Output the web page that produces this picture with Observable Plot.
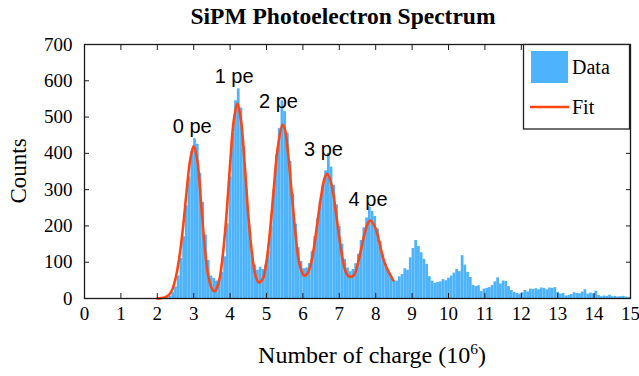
<!DOCTYPE html>
<html><head><meta charset="utf-8">
<script src="https://cdn.jsdelivr.net/npm/d3@7"></script>
<script src="https://cdn.jsdelivr.net/npm/@observablehq/plot@0.6"></script>
<style>body{margin:0;background:#fff} svg{display:block}</style>
</head><body><div id="chart"></div>
<script>
// ---- data ----
const titleText = "SiPM Photoelectron Spectrum";
const xLabelText = "Number of charge (10";
const xLabelSup = "6";
const yLabelText = "Counts";
const legendItems = ["Data", "Fit"];

const binStart = 2.25;
const binWidth = 0.075;
const counts = [
  2, 6, 16, 32, 62, 110, 170, 255, 335, 405,
  440, 425, 345, 265, 175, 105, 62, 55, 48, 52,
  72, 115, 205, 335, 455, 545, 578, 525, 420, 300,
  200, 130, 92, 78, 86, 80, 92, 130, 200, 300,
  395, 468, 545, 515, 455, 378, 288, 205, 140, 102,
  82, 84, 96, 130, 170, 220, 268, 312, 352, 400,
  362, 312, 258, 198, 150, 108, 84, 74, 80, 96,
  122, 160, 195, 222, 252, 240, 226, 192, 158, 122,
  95, 74, 58, 50, 48, 60, 66, 82, 78, 112,
  138, 160, 143, 126, 108, 94, 60, 48, 42, 44,
  46, 52, 49, 56, 62, 70, 80, 74, 118, 92,
  72, 58, 36, 33, 35, 19, 26, 28, 30, 36,
  46, 57, 40, 48, 47, 33, 22, 17, 14, 12,
  16, 22, 18, 26, 25, 27, 24, 29, 28, 24,
  29, 28, 30, 17, 12, 14, 7, 8, 11, 16,
  14, 13, 18, 24, 12, 15, 13, 20, 8, 5,
  7, 6, 9, 5, 6, 4, 5, 6, 4, 3
];

const fitX = [2.0, 2.1, 2.2, 2.3, 2.4, 2.5, 2.6, 2.7, 2.8, 2.9, 3.0, 3.1, 3.2, 3.3, 3.4, 3.5, 3.55, 3.6, 3.7, 3.8,
  3.9, 4.0, 4.1, 4.2, 4.3, 4.4, 4.5, 4.6, 4.7, 4.79, 4.9, 5.0, 5.1, 5.2, 5.3, 5.44, 5.5, 5.6, 5.7, 5.8,
  5.9, 6.03, 6.1, 6.2, 6.3, 6.4, 6.5, 6.6, 6.67, 6.8, 6.9, 7.0, 7.1, 7.2, 7.28, 7.4, 7.5, 7.6, 7.7, 7.8,
  7.86, 8.0, 8.1, 8.2, 8.3, 8.4, 8.48];
const fitY = [0, 1, 3, 8, 22, 55, 110, 190, 290, 380, 420, 380, 265, 145, 62, 27, 20, 22, 50, 120,
  230, 370, 490, 537, 490, 370, 230, 125, 62, 44, 55, 102, 190, 302, 409, 479, 468, 392, 282, 175,
  98, 63, 66, 88, 138, 210, 282, 333, 344, 308, 242, 168, 104, 68, 60, 64, 92, 136, 180, 210,
  215, 192, 155, 112, 85, 65, 50];

const peakLabels = ["0 pe", "1 pe", "2 pe", "3 pe", "4 pe"];
const peakLabelX = [2.96, 4.11, 5.33, 6.565, 7.79];
const peakLabelY = [455, 593, 526, 394, 256];

const xTickValues = [0, 1, 2, 3, 4, 5, 6, 7, 8, 9, 10, 11, 12, 13, 14, 15];
const xTickLabels = ["0","1","2","3","4","5","6","7","8","9","10","11","12","13","14","15"];
const yTickValues = [0, 100, 200, 300, 400, 500, 600, 700];
const yTickLabels = ["0","100","200","300","400","500","600","700"];

// ---- styles ----
const BLUE = "#4db3fc";
const RED = "#ff4612";
const SERIF = "'Liberation Serif', 'Times New Roman', Times, serif";
const SANS = "'Liberation Sans', Arial, Helvetica, sans-serif";

const bins = counts.map((c, i) => ({x1: binStart + i * binWidth, x2: binStart + (i + 1) * binWidth, y: c}));
const fit = fitX.map((x, i) => ({x, y: fitY[i]}));
const labels = peakLabels.map((t, i) => ({t, x: peakLabelX[i], y: peakLabelY[i]}));

const plot = Plot.plot({
  width: 639, height: 376,
  marginLeft: 84, marginRight: 9, marginTop: 44, marginBottom: 78,
  x: {domain: [0, 15], label: null},
  y: {domain: [0, 700], label: null},
  style: {fontFamily: SERIF, fontSize: "19px", color: "#000", background: "#fff", overflow: "visible"},
  marks: [
    Plot.rectY(bins, {x1: "x1", x2: "x2", y: "y", fill: BLUE}),
    Plot.line(fit, {x: "x", y: "y", stroke: RED, strokeWidth: 2.6, curve: "catmull-rom"}),
    Plot.text(labels, {x: "x", y: "y", text: "t", fontFamily: SANS, fontSize: 20, textAnchor: "middle", lineAnchor: "bottom", fill: "#000"}),
    Plot.frame({stroke: "#1a1a1a", strokeWidth: 1.3}),
    // inward ticks on all sides
    Plot.axisX({ticks: xTickValues, anchor: "bottom", tickSize: 5, dy: -5, fill: "none", label: null, stroke: "#1a1a1a"}),
    Plot.axisX({ticks: xTickValues, anchor: "top", tickSize: 5, dy: 5, fill: "none", label: null, stroke: "#1a1a1a"}),
    Plot.axisY({ticks: yTickValues, anchor: "left", tickSize: 5, dx: 5, fill: "none", label: null, stroke: "#1a1a1a"}),
    Plot.axisY({ticks: yTickValues, anchor: "right", tickSize: 5, dx: -5, fill: "none", label: null, stroke: "#1a1a1a"}),
    // tick labels
    Plot.axisX({ticks: xTickValues, anchor: "bottom", tickSize: 0, tickPadding: 8, fontSize: 19, label: null,
      tickFormat: d => xTickLabels[xTickValues.indexOf(d)]}),
    Plot.axisY({ticks: yTickValues, anchor: "left", tickSize: 0, tickPadding: 12, fontSize: 19, label: null,
      tickFormat: d => yTickLabels[yTickValues.indexOf(d)]})
  ]
});

const svg = d3.select(plot);
// title
svg.append("text").attr("x", 343).attr("y", 24).attr("text-anchor", "middle")
  .attr("font-family", SERIF).attr("font-weight", "bold").attr("font-size", 23.5).attr("fill", "#000")
  .text(titleText);
// x label
const xl = svg.append("text").attr("x", 372).attr("y", 363).attr("text-anchor", "middle")
  .attr("font-family", SERIF).attr("font-size", 24).attr("fill", "#000");
xl.append("tspan").text(xLabelText);
xl.append("tspan").attr("dy", -9).attr("font-size", 15.5).text(xLabelSup);
xl.append("tspan").attr("dy", 9).text(")");
// y label
svg.append("text").attr("transform", "translate(26,171) rotate(-90)").attr("text-anchor", "middle")
  .attr("font-family", SERIF).attr("font-size", 23).attr("fill", "#000").text(yLabelText);
// legend
const lg = svg.append("g");
lg.append("rect").attr("x", 523.5).attr("y", 44.5).attr("width", 106).attr("height", 84.5)
  .attr("fill", "#fff").attr("stroke", "#222").attr("stroke-width", 1.3);
lg.append("rect").attr("x", 531).attr("y", 51).attr("width", 37).attr("height", 32).attr("fill", BLUE);
lg.append("text").attr("x", 572).attr("y", 67).attr("dominant-baseline", "central").attr("text-anchor", "start")
  .attr("font-family", SERIF).attr("font-size", 20).attr("fill", "#000").text(legendItems[0]);
lg.append("line").attr("x1", 530).attr("x2", 569).attr("y1", 107).attr("y2", 107)
  .attr("stroke", RED).attr("stroke-width", 2.6);
lg.append("text").attr("x", 572).attr("y", 107).attr("dominant-baseline", "central").attr("text-anchor", "start")
  .attr("font-family", SERIF).attr("font-size", 20).attr("fill", "#000").text(legendItems[1]);

document.getElementById("chart").appendChild(plot);
</script>
</body></html>
